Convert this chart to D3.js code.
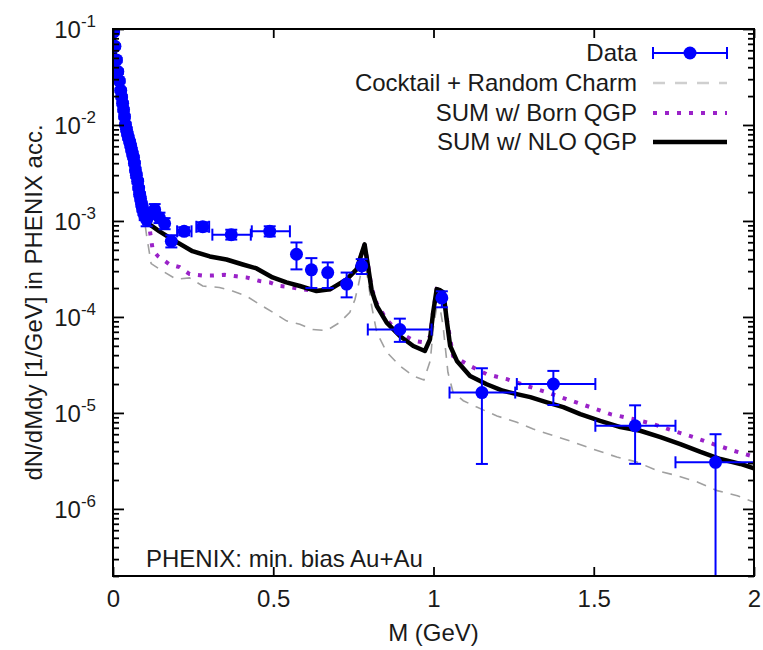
<!DOCTYPE html>
<html>
<head>
<meta charset="utf-8">
<script src="https://cdn.jsdelivr.net/npm/d3@7"></script>
<style>
  body { margin: 0; background: #fff; }
  text { font-family: "Liberation Sans", Arial, sans-serif; fill: #1a1a1a; }
</style>
</head>
<body>
<div id="chart"></div>
<script>
// ---- data ----
const dataM   = [0.002, 0.006, 0.011, 0.015, 0.020, 0.024, 0.027, 0.030, 0.033, 0.036, 0.039, 0.042, 0.045, 0.048, 0.052,
                 0.055, 0.058, 0.061, 0.064, 0.067, 0.070, 0.073, 0.077, 0.080, 0.083, 0.086, 0.089, 0.092, 0.095, 0.099,
                 0.105, 0.117, 0.130, 0.145, 0.161, 0.182, 0.222, 0.280, 0.369, 0.489, 0.5725, 0.619, 0.670, 0.729, 0.776,
                 0.895, 1.026, 1.151, 1.374, 1.629, 1.880];
const dataY   = [0.093, 0.066, 0.0476, 0.036, 0.0288, 0.023, 0.0196, 0.0168, 0.0144, 0.0122, 0.0101, 0.0090, 0.0081, 0.0074, 0.0067,
                 0.0061, 0.0055, 0.0050, 0.0046, 0.0040, 0.0034, 0.0030, 0.0026, 0.0022, 0.0019, 0.0017, 0.0015, 0.00135, 0.00125, 0.00112,
                 1.03e-3, 1.2e-3, 1.31e-3, 1.08e-3, 9.4e-4, 6.15e-4, 7.8e-4, 8.7e-4, 7.2e-4, 7.8e-4, 4.5e-4, 3.1e-4, 2.9e-4, 2.2e-4, 3.4e-4,
                 7.4e-5, 1.58e-4, 1.63e-5, 2.0e-5, 7.35e-6, 3.06e-6];
const dataYLo = [0.088, 0.063, 0.045, 0.034, 0.0275, 0.022, 0.0187, 0.016, 0.0137, 0.0116, 0.0096, 0.0085, 0.0077, 0.0070, 0.0064,
                 0.0058, 0.0052, 0.0047, 0.0044, 0.0038, 0.0032, 0.0028, 0.00245, 0.0021, 0.0018, 0.0016, 0.0014, 0.00125, 0.00115, 0.00102,
                 8.8e-4, 1.05e-3, 1.15e-3, 9.5e-4, 8.2e-4, 5.3e-4, 7.1e-4, 7.8e-4, 6.4e-4, 6.9e-4, 3.13e-4, 2.0e-4, 2.0e-4, 1.6e-4, 2.8e-4,
                 5.5e-5, 1.26e-4, 2.94e-6, 1.21e-5, 2.95e-6, 1e-9];
const dataYHi = [0.098, 0.069, 0.050, 0.038, 0.030, 0.024, 0.0205, 0.0176, 0.0151, 0.0128, 0.0106, 0.0095, 0.0085, 0.0078, 0.0070,
                 0.0064, 0.0058, 0.0053, 0.0048, 0.0042, 0.0036, 0.0032, 0.00275, 0.0023, 0.0020, 0.0018, 0.0016, 0.00145, 0.00135, 0.00122,
                 1.2e-3, 1.37e-3, 1.5e-3, 1.22e-3, 1.07e-3, 7.1e-4, 8.6e-4, 9.7e-4, 8.1e-4, 8.8e-4, 5.97e-4, 4.1e-4, 3.7e-4, 2.9e-4, 4.0e-4,
                 9.6e-5, 1.85e-4, 2.92e-5, 2.74e-5, 1.2e-5, 6.0e-6];
// horizontal bin bars (null = none drawn)
const dataXLo = [null, null, null, null, null, null, null, null, null, null, null, null, null, null, null,
                 null, null, null, null, null, null, null, null, null, null, null, null, null, null, null,
                 0.095, null, null, null, null, null, 0.200, 0.260, 0.310, 0.433, null, null, null, null, null,
                 0.795, null, 1.050, 1.260, 1.505, 1.755];
const dataXHi = [null, null, null, null, null, null, null, null, null, null, null, null, null, null, null,
                 null, null, null, null, null, null, null, null, null, null, null, null, null, null, null,
                 0.115, null, null, null, null, null, 0.245, 0.300, 0.430, 0.552, null, null, null, null, null,
                 0.994, null, 1.255, 1.505, 1.755, 2.000];

// Cocktail + Random Charm
const cocktailM = [0.002, 0.005, 0.011, 0.020, 0.036, 0.052, 0.067, 0.083, 0.090, 0.105, 0.119, 0.155, 0.198, 0.239, 0.280,
                   0.332, 0.373, 0.416, 0.458, 0.498, 0.541, 0.583, 0.623, 0.666, 0.708, 0.739, 0.755, 0.765, 0.783,
                   0.795, 0.807, 0.823, 0.854, 0.895, 0.937, 0.970, 0.990, 1.000, 1.015, 1.030, 1.045, 1.061, 1.093,
                   1.135, 1.198, 1.260, 1.311, 1.374, 1.436, 1.498, 1.572, 1.635, 1.698, 1.760, 1.823, 1.885, 1.948, 2.000];
const cocktailY = [0.095, 0.058, 0.034, 0.021, 0.0115, 0.0062, 0.0038, 0.0022, 0.0016, 7.0e-4, 3.6e-4, 3.0e-4, 2.47e-4, 2.55e-4, 2.1e-4,
                   2.03e-4, 1.86e-4, 1.65e-4, 1.35e-4, 1.12e-4, 9.1e-5, 8.4e-5, 7.4e-5, 7.2e-5, 8.8e-5, 1.12e-4, 1.52e-4, 2.1e-4, 4.0e-4,
                   2.5e-4, 1.3e-4, 6.9e-5, 4.3e-5, 3.1e-5, 2.43e-5, 2.2e-5, 3.5e-5, 8.0e-5, 1.6e-4, 8.0e-5, 2.65e-5, 1.64e-5, 1.34e-5,
                   1.15e-5, 9.3e-6, 8.0e-6, 6.8e-6, 5.8e-6, 4.97e-6, 4.2e-6, 3.47e-6, 3.08e-6, 2.5e-6, 2.22e-6, 1.91e-6, 1.55e-6, 1.37e-6, 1.18e-6];

// SUM w/ Born QGP
const bornM = [0.002, 0.005, 0.011, 0.020, 0.036, 0.052, 0.067, 0.083, 0.098, 0.112, 0.119, 0.124, 0.140, 0.177, 0.208,
               0.239, 0.280, 0.311, 0.348, 0.385, 0.416, 0.458, 0.489, 0.520, 0.552, 0.592, 0.635, 0.677, 0.729, 0.760,
               0.775, 0.785, 0.795, 0.807, 0.823, 0.854, 0.895, 0.942, 0.967, 0.989, 0.999, 1.010, 1.020, 1.031, 1.041,
               1.061, 1.114, 1.166, 1.229, 1.291, 1.354, 1.416, 1.489, 1.552, 1.623, 1.686, 1.748, 1.811, 1.873, 1.936, 2.000];
const bornY = [0.095, 0.060, 0.035, 0.022, 0.012, 0.0065, 0.0040, 0.0024, 0.0014, 9.5e-4, 6.4e-4, 5.0e-4, 4.3e-4, 3.52e-4, 3.3e-4,
               2.8e-4, 2.7e-4, 2.7e-4, 2.75e-4, 2.65e-4, 2.58e-4, 2.37e-4, 2.29e-4, 2.1e-4, 2.05e-4, 1.94e-4, 1.86e-4, 1.94e-4, 2.46e-4, 3.13e-4,
               4.5e-4, 5.7e-4, 3.6e-4, 2.0e-4, 1.38e-4, 9.3e-5, 6.8e-5, 5.6e-5, 5.45e-5, 6.2e-5, 1.15e-4, 1.95e-4, 1.9e-4, 1.8e-4, 9.8e-5,
               3.92e-5, 3.09e-5, 2.53e-5, 2.25e-5, 1.91e-5, 1.64e-5, 1.39e-5, 1.15e-5, 9.72e-6, 8.63e-6, 7.65e-6, 6.52e-6, 5.6e-6, 4.74e-6, 4.04e-6, 3.5e-6];

// SUM w/ NLO QGP
const nloM = [0.002, 0.005, 0.011, 0.020, 0.036, 0.052, 0.067, 0.083, 0.098, 0.114, 0.145, 0.186, 0.248, 0.302, 0.354,
              0.405, 0.448, 0.498, 0.541, 0.583, 0.635, 0.677, 0.729, 0.760, 0.775, 0.785, 0.795, 0.807, 0.823, 0.854,
              0.895, 0.937, 0.973, 0.989, 0.999, 1.010, 1.020, 1.031, 1.041, 1.052, 1.073, 1.114, 1.166, 1.217, 1.260,
              1.302, 1.354, 1.405, 1.458, 1.520, 1.583, 1.645, 1.708, 1.770, 1.833, 1.895, 1.958, 2.000];
const nloY = [0.095, 0.060, 0.035, 0.022, 0.012, 0.0065, 0.0040, 0.0024, 0.0014, 9.2e-4, 7.8e-4, 6.4e-4, 4.84e-4, 4.27e-4, 3.97e-4,
              3.52e-4, 3.2e-4, 2.58e-4, 2.29e-4, 2.1e-4, 1.86e-4, 1.94e-4, 2.46e-4, 3.13e-4, 4.5e-4, 5.7e-4, 3.5e-4, 1.9e-4, 1.3e-4, 8.73e-5,
              6.33e-5, 4.98e-5, 4.42e-5, 5.85e-5, 1.12e-4, 1.95e-4, 1.9e-4, 1.8e-4, 9.4e-5, 5.0e-5, 3.48e-5, 2.43e-5, 1.99e-5, 1.7e-5, 1.57e-5,
              1.46e-5, 1.29e-5, 1.15e-5, 9.72e-6, 8.28e-6, 7.12e-6, 6.52e-6, 5.6e-6, 4.74e-6, 3.92e-6, 3.31e-6, 2.94e-6, 2.65e-6];

const xTicks = [0, 0.5, 1, 1.5, 2];
const yTickExps = [-1, -2, -3, -4, -5, -6];
const legendLabels = ['Data', 'Cocktail + Random Charm', 'SUM w/ Born QGP', 'SUM w/ NLO QGP'];

// ---- layout ----
const W = 763, H = 650;
const mLeft = 113, mRight = 754, mTop = 29, mBottom = 576;
const FONT = 24;

const svg = d3.select('#chart').append('svg').attr('width', W).attr('height', H);

const x = d3.scaleLinear().domain([0, 2]).range([mLeft, mRight]);
const y = d3.scaleLog().domain([2e-7, 0.1]).range([mBottom, mTop]);

svg.append('clipPath').attr('id', 'clip')
  .append('rect').attr('x', mLeft).attr('y', mTop).attr('width', mRight - mLeft).attr('height', mBottom - mTop);

// ---- curves ----
const line = d3.line().x(d => x(d[0])).y(d => y(d[1]));
const plot = svg.append('g').attr('clip-path', 'url(#clip)');

plot.append('path').attr('d', line(d3.zip(cocktailM, cocktailY)))
  .attr('fill', 'none').attr('stroke', '#a0a0a0').attr('stroke-width', 1.6).attr('stroke-dasharray', '10,8');
plot.append('path').attr('d', line(d3.zip(bornM, bornY)))
  .attr('fill', 'none').attr('stroke', '#9a22c8').attr('stroke-width', 4).attr('stroke-dasharray', '4,8');
plot.append('path').attr('d', line(d3.zip(nloM, nloY)))
  .attr('fill', 'none').attr('stroke', '#000').attr('stroke-width', 4.5).attr('stroke-linejoin', 'round');

// ---- data with error bars ----
const blue = '#0000ff';
const cap = 6;
const pts = dataM.map((m, i) => ({ m, v: dataY[i], lo: dataYLo[i], hi: dataYHi[i], xl: dataXLo[i], xh: dataXHi[i] }));
const dg = plot.append('g').attr('stroke', blue).attr('stroke-width', 2);
pts.forEach(p => {
  const cx = x(p.m), cy = y(p.v);
  const y1 = y(p.hi), y2 = y(p.lo);
  dg.append('line').attr('x1', cx).attr('x2', cx).attr('y1', y1).attr('y2', y2);
  dg.append('line').attr('x1', cx - cap).attr('x2', cx + cap).attr('y1', y1).attr('y2', y1);
  dg.append('line').attr('x1', cx - cap).attr('x2', cx + cap).attr('y1', y2).attr('y2', y2);
  if (p.xl != null) {
    const x1 = x(p.xl), x2 = x(p.xh);
    dg.append('line').attr('x1', x1).attr('x2', x2).attr('y1', cy).attr('y2', cy);
    dg.append('line').attr('x1', x1).attr('x2', x1).attr('y1', cy - cap).attr('y2', cy + cap);
    dg.append('line').attr('x1', x2).attr('x2', x2).attr('y1', cy - cap).attr('y2', cy + cap);
  }
});
plot.append('g').selectAll('circle').data(pts).join('circle')
  .attr('cx', d => x(d.m)).attr('cy', d => y(d.v)).attr('r', 6.5).attr('fill', blue);

// ---- axes ----
const majors = yTickExps.map(e => Math.pow(10, e));
const minors = [];
for (let e = -7; e <= -2; e++) for (let k = 2; k <= 9; k++) {
  const v = k * Math.pow(10, e);
  if (v >= 2e-7 && v < 0.1) minors.push(v);
}

function yAxisTicks(g, axis) {
  g.call(axis);
  g.select('.domain').remove();
  g.selectAll('line').attr('stroke', '#000').attr('stroke-width', 1.8);
  g.selectAll('text').remove();
}
svg.append('g').attr('transform', `translate(${mLeft},0)`)
  .call(g => yAxisTicks(g, d3.axisLeft(y).tickValues(majors).tickSize(-11)));
svg.append('g').attr('transform', `translate(${mLeft},0)`)
  .call(g => yAxisTicks(g, d3.axisLeft(y).tickValues(minors).tickSize(-6)));
svg.append('g').attr('transform', `translate(${mRight},0)`)
  .call(g => yAxisTicks(g, d3.axisRight(y).tickValues(majors).tickSize(-11)));
svg.append('g').attr('transform', `translate(${mRight},0)`)
  .call(g => yAxisTicks(g, d3.axisRight(y).tickValues(minors).tickSize(-6)));

// y tick labels 10^n
const yl = svg.append('g').selectAll('text').data(yTickExps).join('text')
  .attr('x', 96).attr('y', d => y(Math.pow(10, d)) + 9)
  .attr('text-anchor', 'end').attr('font-size', FONT);
yl.append('tspan').text('10');
yl.append('tspan').attr('dy', -11).attr('font-size', 17).text(d => String(d));

// x axis
const xb = svg.append('g').attr('transform', `translate(0,${mBottom})`)
  .call(d3.axisBottom(x).tickValues(xTicks).tickSize(-9).tickPadding(14).tickFormat(d3.format('~g')));
xb.select('.domain').remove();
xb.selectAll('line').attr('stroke', '#000').attr('stroke-width', 1.8);
xb.selectAll('text').attr('font-size', FONT).attr('fill', '#1a1a1a').attr('font-family', '"Liberation Sans", Arial, sans-serif');
const xt = svg.append('g').attr('transform', `translate(0,${mTop})`)
  .call(d3.axisTop(x).tickValues(xTicks).tickSize(-9).tickFormat(''));
xt.select('.domain').remove();
xt.selectAll('line').attr('stroke', '#000').attr('stroke-width', 1.8);

// frame
svg.append('rect').attr('x', mLeft).attr('y', mTop).attr('width', mRight - mLeft).attr('height', mBottom - mTop)
  .attr('fill', 'none').attr('stroke', '#000').attr('stroke-width', 2);

// axis titles
svg.append('text').attr('x', (mLeft + mRight) / 2).attr('y', 641).attr('text-anchor', 'middle')
  .attr('font-size', FONT).text('M (GeV)');
svg.append('text').attr('transform', `translate(42,${(mTop + mBottom) / 2}) rotate(-90)`)
  .attr('text-anchor', 'middle').attr('font-size', FONT).text('dN/dMdy [1/GeV] in PHENIX acc.');

svg.append('text').attr('x', 146).attr('y', 567).attr('font-size', FONT).text('PHENIX: min. bias Au+Au');

// ---- legend ----
const legY = [53, 83, 113, 142];
const sx1 = 653, sx2 = 727;
const leg = svg.append('g');
leg.selectAll('text').data(legendLabels).join('text')
  .attr('x', 637).attr('y', (d, i) => legY[i] + 8).attr('text-anchor', 'end').attr('font-size', FONT).text(d => d);
// Data sample
const l0 = leg.append('g').attr('stroke', blue).attr('stroke-width', 2);
l0.append('line').attr('x1', sx1).attr('x2', sx2).attr('y1', legY[0]).attr('y2', legY[0]);
l0.append('line').attr('x1', sx1).attr('x2', sx1).attr('y1', legY[0] - cap).attr('y2', legY[0] + cap);
l0.append('line').attr('x1', sx2).attr('x2', sx2).attr('y1', legY[0] - cap).attr('y2', legY[0] + cap);
leg.append('circle').attr('cx', (sx1 + sx2) / 2).attr('cy', legY[0]).attr('r', 6.5).attr('fill', blue);
leg.append('line').attr('x1', sx1).attr('x2', sx2).attr('y1', legY[1]).attr('y2', legY[1])
  .attr('stroke', '#cfcfcf').attr('stroke-width', 2.5).attr('stroke-dasharray', '12,10');
leg.append('line').attr('x1', sx1).attr('x2', sx2).attr('y1', legY[2]).attr('y2', legY[2])
  .attr('stroke', '#9a22c8').attr('stroke-width', 4).attr('stroke-dasharray', '4,8');
leg.append('line').attr('x1', sx1).attr('x2', sx2).attr('y1', legY[3]).attr('y2', legY[3])
  .attr('stroke', '#000').attr('stroke-width', 4.5);
</script>
</body>
</html>
